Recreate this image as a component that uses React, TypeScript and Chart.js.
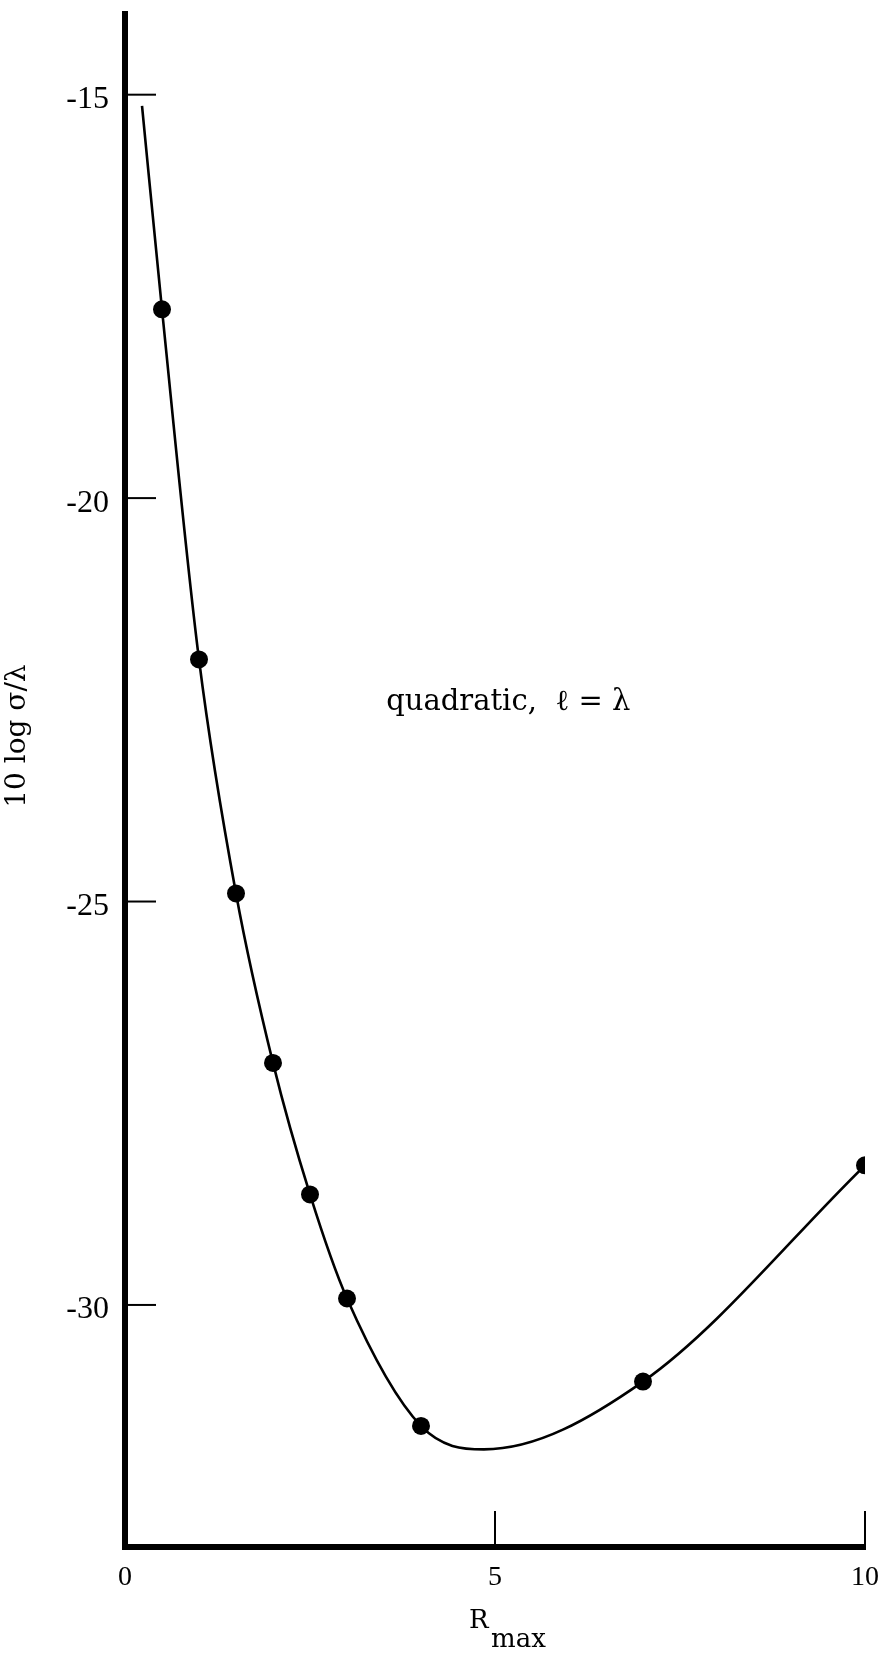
import React, { useEffect, useRef } from 'react';
import { Chart, registerables } from 'chart.js';

Chart.register(...registerables);

// Measured points: R_max against 10 log(sigma/lambda)
const rMaxMeasured = [0.5, 1, 1.5, 2, 2.5, 3, 4, 7, 10];
const sigmaMeasured = [-17.66, -22.0, -24.9, -27.0, -28.63, -29.92, -31.5, -30.95, -28.27];

// Vertices of the faired curve drawn through the measurements
const rMaxCurve = [0.23, 0.5, 1, 1.5, 2, 2.5, 3, 4, 4.85, 7, 10];
const sigmaCurve = [-15.14, -17.66, -22.0, -24.9, -27.0, -28.63, -29.92, -31.5, -31.79, -30.95, -28.27];

// Axis ranges and tick spacing
const xRange = [0, 10];
const yRange = [-33, -14];
const xStep = 5;
const yStep = 5;

// Text
const yTitle = '10 log σ/λ';
const yTitleAt = -22.95;
const xTitleMain = 'R';
const xTitleSub = 'max';
const note = 'quadratic,  ℓ = λ';
const noteAt = [3.53, -22.63];

const SERIF = '"Liberation Serif", "Times New Roman", serif';
const WIDE_SERIF = '"DejaVu Serif", serif';

const framePlugin = {
  id: 'frame',
  afterDatasetsDraw(chart: any) {
    const { ctx, chartArea } = chart;
    const xs = chart.scales.x;
    const ys = chart.scales.y;
    ctx.save();
    ctx.strokeStyle = '#000';
    ctx.fillStyle = '#000';
    ctx.lineWidth = 2;
    ctx.lineCap = 'butt';
    // inward tick marks on the vertical axis
    ys.ticks.forEach((t: any) => {
      const py = ys.getPixelForValue(t.value);
      ctx.beginPath();
      ctx.moveTo(chartArea.left, py);
      ctx.lineTo(chartArea.left + 31, py);
      ctx.stroke();
    });
    // inward tick marks on the horizontal axis
    xs.ticks.forEach((t: any) => {
      if (t.value === xs.min) return;
      const px = xs.getPixelForValue(t.value);
      ctx.beginPath();
      ctx.moveTo(px, chartArea.bottom);
      ctx.lineTo(px, chartArea.bottom - 36);
      ctx.stroke();
    });
    // curve label
    ctx.font = '29px ' + WIDE_SERIF;
    ctx.textAlign = 'left';
    ctx.textBaseline = 'alphabetic';
    ctx.fillText(note, xs.getPixelForValue(noteAt[0]), ys.getPixelForValue(noteAt[1]));
    // horizontal axis title with subscript
    const cx = xs.getPixelForValue(5);
    ctx.font = '26px ' + WIDE_SERIF;
    ctx.fillText(xTitleMain, cx - 26, chartArea.bottom + 81);
    ctx.fillText(xTitleSub, cx - 4, chartArea.bottom + 100);
    // vertical axis title
    ctx.save();
    ctx.translate(18, ys.getPixelForValue(yTitleAt));
    ctx.rotate(-Math.PI / 2);
    ctx.font = '28px ' + WIDE_SERIF;
    ctx.textAlign = 'center';
    ctx.textBaseline = 'middle';
    ctx.fillText(yTitle, 0, 0);
    ctx.restore();
    ctx.restore();
  },
};

export default function App() {
  const canvasRef = useRef<HTMLCanvasElement | null>(null);

  useEffect(() => {
    const canvas = canvasRef.current;
    if (!canvas) return;
    const curve = rMaxCurve.map((r, i) => ({ x: r, y: sigmaCurve[i] }));
    const points = rMaxMeasured.map((r, i) => ({ x: r, y: sigmaMeasured[i] }));

    const chart = new Chart(canvas, {
      type: 'scatter',
      data: {
        datasets: [
          {
            data: curve,
            showLine: true,
            borderColor: '#000',
            borderWidth: 2.6,
            pointRadius: 0,
            cubicInterpolationMode: 'monotone',
            fill: false,
          },
          {
            data: points,
            showLine: false,
            pointRadius: 9,
            pointBackgroundColor: '#000',
            pointBorderWidth: 0,
          },
        ],
      },
      options: {
        responsive: false,
        animation: false,
        events: [],
        layout: { padding: { left: 0, top: 14, right: 19, bottom: 0 } },
        plugins: {
          legend: { display: false },
          tooltip: { enabled: false },
        },
        scales: {
          x: {
            type: 'linear',
            min: xRange[0],
            max: xRange[1],
            grid: { display: true, drawOnChartArea: false, drawTicks: false },
            border: { display: true, color: '#000', width: 6 },
            ticks: {
              stepSize: xStep,
              includeBounds: false,
              padding: 14,
              color: '#000',
              font: { family: SERIF, size: 28 },
            },
            afterFit(scale: any) {
              scale.height = 108;
              scale.paddingLeft = 0;
              scale.paddingRight = 0;
            },
          },
          y: {
            type: 'linear',
            min: yRange[0],
            max: yRange[1],
            grid: { display: true, drawOnChartArea: false, drawTicks: false },
            border: { display: true, color: '#000', width: 6 },
            ticks: {
              stepSize: yStep,
              includeBounds: false,
              padding: 16,
              labelOffset: 5,
              color: '#000',
              font: { family: SERIF, size: 32 },
            },
            afterFit(scale: any) {
              scale.width = 125;
              scale.paddingTop = 0;
              scale.paddingBottom = 0;
            },
          },
        },
      },
      plugins: [framePlugin],
    } as any);

    return () => chart.destroy();
  }, []);

  return (
    <div style={{ position: 'absolute', left: 0, top: 0, width: 884, height: 1655, background: '#fff' }}>
      <canvas ref={canvasRef} width={884} height={1655} style={{ display: 'block' }} />
    </div>
  );
}
